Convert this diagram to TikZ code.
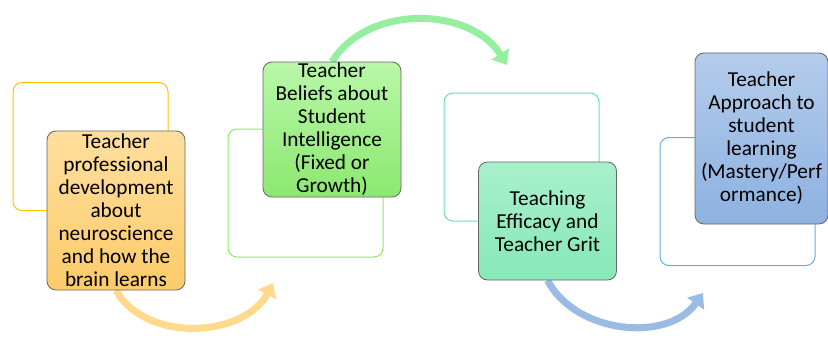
\documentclass[tikz,border=0pt]{standalone}
\usepackage{fontspec}
\setmainfont{Carlito}
\usetikzlibrary{arrows.meta,backgrounds}
\definecolor{orFrame}{HTML}{FFC000}
\definecolor{orTop}{HTML}{FFDF9E}
\definecolor{orBot}{HTML}{FCCB6A}
\definecolor{orArrow}{HTML}{FFD98C}
\definecolor{grFrame}{HTML}{8EE85A}
\definecolor{grTop}{HTML}{B8F7A8}
\definecolor{grBot}{HTML}{8CE870}
\definecolor{grArrow}{HTML}{96EFA0}
\definecolor{tqFrame}{HTML}{5EE8A8}
\definecolor{tqTop}{HTML}{A8F0CC}
\definecolor{tqBot}{HTML}{86E8B8}
\definecolor{blFrame}{HTML}{6FA8DC}
\definecolor{blTop}{HTML}{B4CCEB}
\definecolor{blBot}{HTML}{8DB1E1}
\definecolor{blArrow}{HTML}{99BBE4}
\begin{document}
\begin{tikzpicture}[x=1pt,y=1pt,
    frame/.style={line width=1pt, rounded corners=9pt, minimum width=155pt, minimum height=128pt, inner sep=0pt},
    stage/.style={draw=black!60, line width=.8pt, rounded corners=9pt, minimum width=138pt, inner sep=0pt,
        align=center, font=\fontsize{21.3}{23}\selectfont},
    flow/.style={line width=7pt, -{Triangle[length=13pt,width=20pt]}}]
    \useasboundingbox (0,0) rectangle (828,341);
    % empty frames behind the boxes
    \node[frame,draw=orFrame] (f1) at (90.5,194.5) {};
    \node[frame,draw=grFrame] (f2) at (305.5,148) {};
    \node[frame,draw=tqFrame] (f3) at (521.5,184) {};
    \node[frame,draw=blFrame] (f4) at (737.5,139.5) {};
    % the four stages
    \node[stage,top color=orTop,bottom color=orBot,minimum height=159pt] (b1) at (116,130.5)
        {Teacher\\professional\\development\\about\\neuroscience\\and how the\\brain learns};
    \node[stage,top color=grTop,bottom color=grBot,minimum height=135pt] (b2) at (332,211.5)
        {Teacher\\Beliefs about\\Student\\Intelligence\\(Fixed or\\Growth)};
    \node[stage,top color=tqTop,bottom color=tqBot,minimum height=118pt] (b3) at (547.5,120)
        {Teaching\\Efficacy and\\Teacher Grit};
    \node[stage,top color=blTop,bottom color=blBot,minimum height=171pt,minimum width=133pt] (b4) at (761.5,202.5)
        {Teacher\\Approach to\\student\\learning\\(Mastery/Perf\\ormance)};
    % curved arrows
    \coordinate (t1) at (273,58);
    \coordinate (t2) at (507,276);
    \coordinate (t3) at (703,48);
    \begin{scope}[on background layer]
        \draw[flow,orArrow] (b1.south) to[out=-60,in=-118] (t1);
        \draw[flow,grArrow] (b2.north) to[out=58,in=122] (t2);
        \draw[flow,blArrow] (b3.south) to[out=-62,in=-125] (t3);
    \end{scope}
\end{tikzpicture}
\end{document}
